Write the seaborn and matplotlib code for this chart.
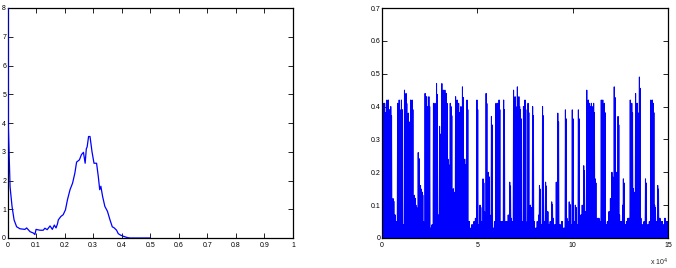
import numpy as np
import pandas as pd
import matplotlib
matplotlib.use("Agg")
import matplotlib.pyplot as plt
import seaborn as sns

# ---------------- Left panel: density curve ----------------
dens_x = [0.0, 0.002, 0.003, 0.009, 0.016, 0.023, 0.032, 0.044, 0.061, 0.067, 0.079,
          0.091, 0.096, 0.100, 0.114, 0.125, 0.131, 0.139, 0.149, 0.157, 0.164,
          0.170, 0.175, 0.178, 0.187, 0.195, 0.203, 0.210, 0.219, 0.228, 0.236,
          0.242, 0.252, 0.259, 0.266, 0.272, 0.276, 0.279, 0.284, 0.289, 0.296,
          0.303, 0.312, 0.318, 0.323, 0.327, 0.333, 0.341, 0.350, 0.359, 0.367,
          0.374, 0.382, 0.388, 0.396, 0.406, 0.418, 0.429, 0.45, 0.5]
dens_y = [12.0, 9.0, 3.87, 1.78, 1.09, 0.63, 0.39, 0.32, 0.30, 0.35, 0.22,
          0.17, 0.12, 0.30, 0.27, 0.27, 0.34, 0.29, 0.42, 0.30, 0.45,
          0.35, 0.49, 0.63, 0.75, 0.81, 0.98, 1.33, 1.68, 1.91, 2.26,
          2.64, 2.72, 2.90, 2.98, 2.60, 3.10, 3.17, 3.53, 3.53, 3.00,
          2.60, 2.60, 2.14, 1.68, 1.80, 1.45, 1.10, 0.93, 0.63, 0.39,
          0.35, 0.27, 0.15, 0.10, 0.06, 0.02, 0.0, 0.0, 0.0]
left_xticks = [0, 0.1, 0.2, 0.3, 0.4, 0.5, 0.6, 0.7, 0.8, 0.9, 1]
left_xlabels = ["0", "0.1", "0.2", "0.3", "0.4", "0.5", "0.6", "0.7", "0.8", "0.9", "1"]
left_yticks = [0, 1, 2, 3, 4, 5, 6, 7, 8]

# ---------------- Right panel: spiky signal (x in units of 10^4) ----------------
spike_x = [0.05, 0.13, 0.26, 0.34, 0.47, 0.58, 0.81, 0.89, 1.00, 1.18, 1.26, 1.36,
           1.49, 1.57, 1.68, 1.78, 1.89, 1.99, 2.10, 2.23, 2.31, 2.44, 2.70, 2.78,
           2.83, 3.02, 3.12, 3.20, 3.28, 3.36, 3.46, 3.57, 3.62, 3.72, 3.85, 3.93,
           4.01, 4.14, 4.20, 4.33, 4.46, 4.98, 5.14, 5.30, 5.45, 5.58, 5.72, 5.95,
           6.03, 6.11, 6.35, 6.69, 6.87, 6.95, 7.08, 7.16, 7.24, 7.39, 7.47, 7.63,
           7.76, 7.89, 8.23, 8.39, 8.55, 8.89, 9.12, 9.20, 9.60, 9.81, 9.96, 10.12,
           10.30, 10.49, 10.57, 10.72, 10.80, 10.86, 10.91, 10.96, 11.01, 11.07,
           11.17, 11.49, 11.56, 11.64, 11.97, 12.05, 12.18, 12.27, 12.38, 12.59,
           12.66, 13.00, 13.08, 13.16, 13.27, 13.37, 13.50, 13.80, 14.08, 14.16,
           14.21, 14.29, 14.43]
spike_h = [0.41, 0.41, 0.42, 0.42, 0.40, 0.12, 0.41, 0.42, 0.42, 0.45, 0.44, 0.38,
           0.42, 0.42, 0.13, 0.10, 0.26, 0.16, 0.14, 0.44, 0.43, 0.43, 0.41, 0.41,
           0.47, 0.34, 0.47, 0.45, 0.45, 0.44, 0.24, 0.41, 0.40, 0.15, 0.43, 0.42,
           0.41, 0.40, 0.46, 0.24, 0.42, 0.42, 0.10, 0.18, 0.44, 0.20, 0.37, 0.41,
           0.41, 0.42, 0.42, 0.17, 0.45, 0.43, 0.46, 0.43, 0.39, 0.40, 0.42, 0.41,
           0.10, 0.40, 0.16, 0.40, 0.17, 0.11, 0.17, 0.38, 0.39, 0.11, 0.39, 0.10,
           0.39, 0.10, 0.22, 0.45, 0.42, 0.41, 0.40, 0.41, 0.40, 0.41,
           0.18, 0.42, 0.42, 0.41, 0.12, 0.20, 0.46, 0.20, 0.37, 0.10,
           0.18, 0.42, 0.41, 0.15, 0.44, 0.41, 0.49, 0.18, 0.42, 0.42,
           0.41, 0.10, 0.16]
# typical height of the dense baseline, per 0.1 x 10^4 window
base_level = [0.05, 0.04, 0.06, 0.04, 0.03, 0.05, 0.07, 0.05, 0.04, 0.06,
              0.05, 0.04, 0.06, 0.08, 0.05, 0.04, 0.07, 0.06, 0.05, 0.09,
              0.06, 0.05, 0.04, 0.06, 0.05, 0.03, 0.04, 0.06, 0.05, 0.07,
              0.06, 0.08, 0.05, 0.06, 0.07, 0.05, 0.09, 0.06, 0.05, 0.04,
              0.06, 0.05, 0.07, 0.04, 0.06, 0.05, 0.03, 0.04, 0.05, 0.06,
              0.04, 0.06, 0.05, 0.08, 0.06, 0.05, 0.07, 0.04, 0.03, 0.05,
              0.06, 0.04, 0.05, 0.03, 0.04, 0.05, 0.07, 0.06, 0.05, 0.08,
              0.06, 0.05, 0.07, 0.05, 0.06, 0.04, 0.05, 0.06, 0.04, 0.05,
              0.03, 0.05, 0.07, 0.04, 0.06, 0.05, 0.08, 0.04, 0.05, 0.06,
              0.04, 0.06, 0.05, 0.04, 0.05, 0.03, 0.06, 0.05, 0.07, 0.04,
              0.05, 0.06, 0.04, 0.05, 0.07, 0.05, 0.08, 0.06, 0.07, 0.05,
              0.06, 0.05, 0.04, 0.06, 0.05, 0.07, 0.06, 0.04, 0.05, 0.08,
              0.05, 0.06, 0.04, 0.05, 0.07, 0.05, 0.06, 0.04, 0.05, 0.06,
              0.07, 0.05, 0.06, 0.08, 0.05, 0.06, 0.04, 0.05, 0.06, 0.04,
              0.05, 0.07, 0.06, 0.05, 0.04, 0.06, 0.05, 0.04, 0.06, 0.05]
right_xticks = [0, 5, 10, 15]
right_yticks = [0, 0.1, 0.2, 0.3, 0.4, 0.5, 0.6, 0.7]
right_ylabels = ["0", "0.1", "0.2", "0.3", "0.4", "0.5", "0.6", "0.7"]

# build the sampled signal on a fine grid from the read values
step = 0.02
grid = np.round(np.arange(0, 15.0 + step / 2, step), 4)
sig = np.zeros_like(grid)
for i, gx in enumerate(grid):
    if i % 2 == 1:
        sig[i] = base_level[min(int(gx / 0.1), len(base_level) - 1)]
for sx, sh in zip(spike_x, spike_h):
    k = int(round(sx / step))
    if k % 2 == 0:
        k += 1
    sig[k] = max(sig[k], sh)
    if k + 2 < len(sig):
        sig[k + 2] = max(sig[k + 2], sh * 0.93)
df_right = pd.DataFrame({"x": grid, "y": sig})
df_left = pd.DataFrame({"x": dens_x, "y": dens_y})

sns.set_style("white")
plt.rcParams['font.family'] = ['Liberation Sans Narrow', 'Liberation Sans', 'DejaVu Sans']

fig = plt.figure(figsize=(6.76, 2.68), dpi=100)
ax1 = fig.add_axes([7.5 / 676, 1 - 238 / 268, (293 - 7.5) / 676, 230 / 268])
ax2 = fig.add_axes([382 / 676, 1 - 238 / 268, (668 - 382) / 676, 230 / 268])

sns.lineplot(data=df_left, x="x", y="y", ax=ax1, color="#0000ff", linewidth=0.9,
             sort=False, estimator=None, zorder=3)
sns.lineplot(data=df_right, x="x", y="y", ax=ax2, color="#0000ff", linewidth=0.75,
             sort=False, estimator=None)

ax1.set_xlim(0, 1)
ax1.set_ylim(0, 8)
ax1.set_xticks(left_xticks)
ax1.set_xticklabels(left_xlabels)
ax1.set_yticks(left_yticks)
ax1.set_yticklabels([str(v) for v in left_yticks])

ax2.set_xlim(0, 15)
ax2.set_ylim(0, 0.7)
ax2.set_xticks(right_xticks)
ax2.set_xticklabels([str(v) for v in right_xticks])
ax2.set_yticks(right_yticks)
ax2.set_yticklabels(right_ylabels)
ax2.text(1.0, -0.105, "x 10$^4$", transform=ax2.transAxes, ha="right", va="center",
         fontsize=5)

for ax in (ax1, ax2):
    ax.set_xlabel("")
    ax.set_ylabel("")
    for s in ax.spines.values():
        s.set_color("black")
        s.set_linewidth(0.9)
        s.set_visible(True)
    ax.tick_params(direction="in", length=3.5, width=0.6, colors="black",
                   labelsize=5, top=True, right=True, bottom=True, left=True)
    ax.tick_params(axis="x", pad=3)
    ax.tick_params(axis="y", pad=1)

fig.savefig("out.png", dpi=100)
